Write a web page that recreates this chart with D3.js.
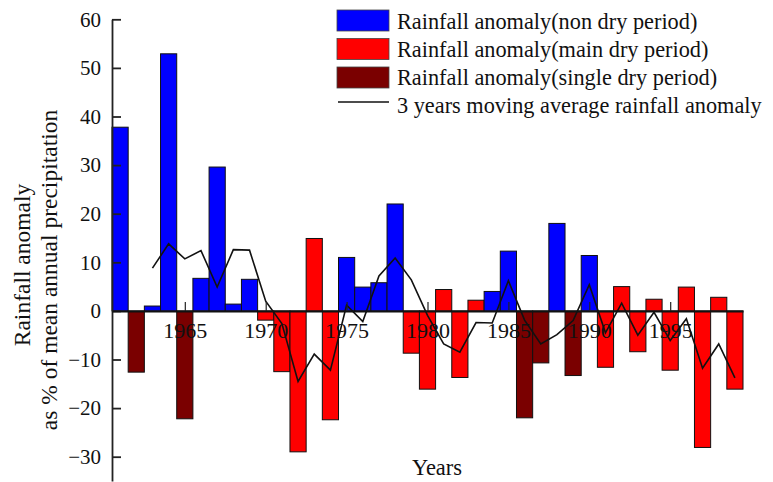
<!DOCTYPE html>
<html>
<head>
<meta charset="utf-8">
<script src="https://cdn.jsdelivr.net/npm/d3@7"></script>
<style>
  body { margin: 0; background: #fff; }
  svg text { font-family: 'Liberation Serif', 'Times New Roman', serif; fill: #111; }
</style>
</head>
<body>
<div id="chart"></div>
<script>
const width = 773
const height = 482

// one bar per year
const years = [1961, 1962, 1963, 1964, 1965, 1966, 1967, 1968, 1969, 1970,
  1971, 1972, 1973, 1974, 1975, 1976, 1977, 1978, 1979, 1980,
  1981, 1982, 1983, 1984, 1985, 1986, 1987, 1988, 1989, 1990,
  1991, 1992, 1993, 1994, 1995, 1996, 1997, 1998, 1999]
const anomaly = [37.8, -12.6, 1.0, 52.9, -22.2, 6.7, 29.6, 1.4, 6.5, -1.9,
  -12.5, -29.0, 14.9, -22.4, 11.0, 4.9, 5.8, 22.0, -8.7, -16.1,
  4.4, -13.7, 2.2, 4.0, 12.3, -22.0, -10.7, 18.0, -13.3, 11.4,
  -11.6, 5.0, -8.4, 2.4, -12.2, 4.9, -28.1, 2.8, -16.1]
// non = non dry period, main = main dry period, single = single dry period
const period = ['non', 'single', 'non', 'non', 'single', 'non', 'non', 'non', 'non', 'main',
  'main', 'main', 'main', 'main', 'non', 'non', 'non', 'non', 'main', 'main',
  'main', 'main', 'main', 'non', 'non', 'single', 'single', 'non', 'single', 'non',
  'main', 'main', 'main', 'main', 'main', 'main', 'main', 'main', 'main']

// 3 years moving average (plotted from 1963)
const avgYears = years.slice(2)
const movingAvg = [8.8, 13.8, 10.7, 12.4, 4.9, 12.6, 12.5, 2.0, -2.6, -14.5,
  -8.9, -12.2, 1.2, -2.2, 7.2, 10.9, 6.4, -0.9, -6.8, -8.5,
  -2.4, -2.5, 6.2, -1.9, -6.8, -4.9, -2.0, 5.4, -4.5, 1.6,
  -5.0, -0.3, -6.1, -1.6, -11.8, -6.8, -13.8]

const yTicks = [-30, -20, -10, 0, 10, 20, 30, 40, 50, 60]
const xTicks = [1965, 1970, 1975, 1980, 1985, 1990, 1995]
const legendKeys = ['non', 'main', 'single']
const legendLabels = ['Rainfall anomaly(non dry period)', 'Rainfall anomaly(main dry period)',
  'Rainfall anomaly(single dry period)', '3 years moving average rainfall anomaly']
const colors = { non: '#0000ff', main: '#ff0000', single: '#7a0000' }

let svg = d3.select('#chart').append('svg')
  .attr('width', width)
  .attr('height', height)

const x = d3.scaleLinear().domain([1960.5, 1999.5]).range([112, 743])
const y = d3.scaleLinear().domain([-35, 60]).range([481, 19.3])
const barW = x(1) - x(0)

// bars
svg.append('g').selectAll('rect')
  .data(years)
  .join('rect')
  .attr('x', (d) => x(d) - barW / 2)
  .attr('y', (d, i) => y(Math.max(0, anomaly[i])))
  .attr('width', barW)
  .attr('height', (d, i) => Math.abs(y(anomaly[i]) - y(0)))
  .attr('fill', (d, i) => colors[period[i]])
  .attr('stroke', '#111')
  .attr('stroke-width', 1)

// moving average line
const line = d3.line()
  .x((d) => x(d))
  .y((d, i) => y(movingAvg[i]))
svg.append('path')
  .datum(avgYears)
  .attr('d', line)
  .attr('fill', 'none')
  .attr('stroke', '#111')
  .attr('stroke-width', 1.6)

// y axis, ticks pointing inward
const yAxis = svg.append('g')
  .attr('transform', `translate(${x.range()[0]},0)`)
  .call(d3.axisLeft(y).tickValues(yTicks).tickSizeInner(-9).tickSizeOuter(0).tickPadding(11))
yAxis.select('.domain').attr('stroke', '#222').attr('stroke-width', 1.8)
yAxis.selectAll('.tick line').attr('stroke', '#222').attr('stroke-width', 1.8)
yAxis.selectAll('text').attr('font-size', 21).attr('fill', '#111')

// x axis along zero
const xAxis = svg.append('g')
  .attr('transform', `translate(0,${y(0)})`)
  .call(d3.axisBottom(x).tickValues(xTicks).tickFormat(d3.format('d'))
    .tickSizeInner(-9).tickSizeOuter(0).tickPadding(11))
xAxis.select('.domain').attr('stroke', '#111').attr('stroke-width', 2)
xAxis.selectAll('.tick line').attr('stroke', '#222').attr('stroke-width', 1.2)
xAxis.selectAll('text').attr('font-size', 22).attr('fill', '#111')

// axis titles
svg.append('text')
  .attr('transform', 'translate(30,265) rotate(-90)')
  .attr('text-anchor', 'middle')
  .attr('font-size', 23.5)
  .text('Rainfall anomaly')
svg.append('text')
  .attr('transform', 'translate(57,270) rotate(-90)')
  .attr('text-anchor', 'middle')
  .attr('font-size', 23.5)
  .text('as % of mean annual precipitation')
svg.append('text')
  .attr('x', 437)
  .attr('y', 475)
  .attr('text-anchor', 'middle')
  .attr('font-size', 22.5)
  .text('Years')

// legend
const legend = svg.append('g').attr('transform', 'translate(337,0)')
legend.selectAll('rect')
  .data(legendKeys)
  .join('rect')
  .attr('x', 0)
  .attr('y', (d, i) => 10 + i * 28.5)
  .attr('width', 52)
  .attr('height', 21)
  .attr('fill', (d) => colors[d])
  .attr('stroke', '#444')
  .attr('stroke-width', 0.8)
legend.append('line')
  .attr('x1', 1)
  .attr('x2', 52)
  .attr('y1', 102)
  .attr('y2', 102)
  .attr('stroke', '#111')
  .attr('stroke-width', 1.6)
legend.selectAll('text')
  .data(legendLabels)
  .join('text')
  .attr('x', 60)
  .attr('y', (d, i) => 29 + i * 27.9)
  .attr('font-size', 22.3)
  .text((d) => d)
</script>
</body>
</html>
